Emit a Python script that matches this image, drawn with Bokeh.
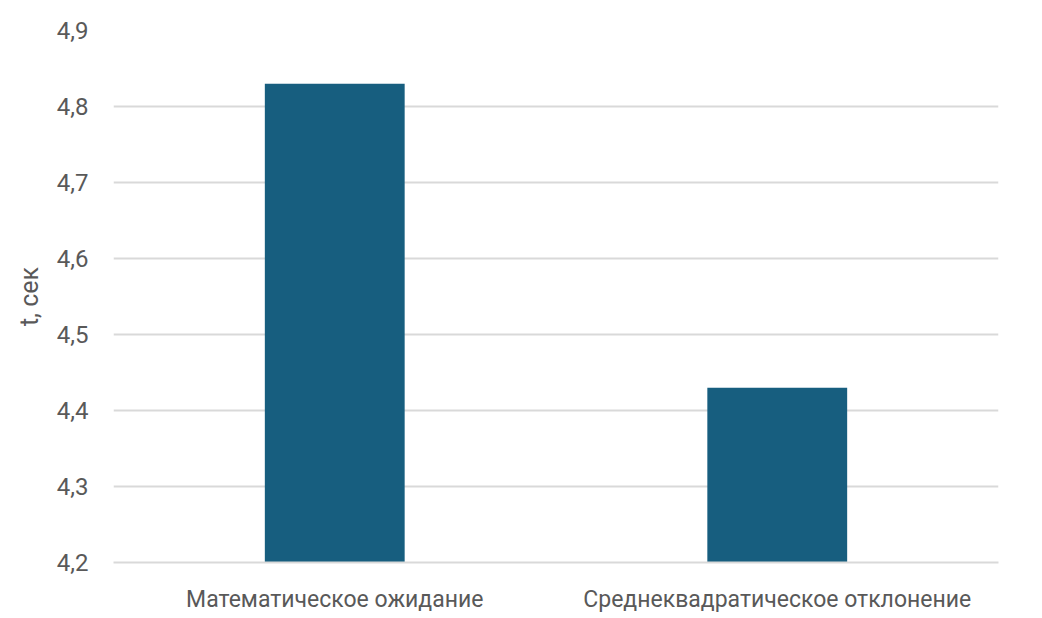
from bokeh.plotting import figure
from bokeh.models import Range1d, FixedTicker, ColumnDataSource
from bokeh.embed import file_html
from bokeh.resources import INLINE

categories = ["Математическое ожидание", "Среднеквадратическое отклонение"]
values = [4.83, 4.43]
y_ticks = [4.2, 4.3, 4.4, 4.5, 4.6, 4.7, 4.8, 4.9]
y_tick_labels = ["4,2", "4,3", "4,4", "4,5", "4,6", "4,7", "4,8", "4,9"]

source = ColumnDataSource(data=dict(cat=categories, val=values))

p = figure(x_range=categories, y_range=Range1d(4.2, 4.9),
           width=1034, height=615, output_backend="svg", toolbar_location=None,
           min_border_left=113, min_border_right=36, min_border_top=30, min_border_bottom=49)

p.vbar(x='cat', top='val', bottom=4.2, width=0.316, source=source,
       fill_color="#175e7f", line_color=None)

p.outline_line_color = None
p.xgrid.grid_line_color = None
p.ygrid.grid_line_color = "#d9d9d9"
p.ygrid.grid_line_width = 2

p.yaxis.ticker = FixedTicker(ticks=y_ticks)
p.yaxis.major_label_overrides = dict(zip(y_ticks, y_tick_labels))
p.yaxis.axis_line_color = None
p.yaxis.major_tick_line_color = None
p.yaxis.minor_tick_line_color = None
p.yaxis.major_tick_out = 0
p.yaxis.minor_tick_out = 0
p.yaxis.major_label_standoff = 25
p.yaxis.axis_label = "t, сек"
p.yaxis.axis_label_standoff = 10

p.xaxis.axis_line_color = "#d9d9d9"
p.xaxis.axis_line_width = 2
p.xaxis.major_tick_line_color = None
p.xaxis.major_tick_out = 0
p.xaxis.major_label_standoff = 23

p.axis.major_label_text_font = "Roboto"
p.axis.axis_label_text_font = "Roboto"
p.axis.major_label_text_color = "#595959"
p.axis.axis_label_text_color = "#595959"
p.axis.axis_label_text_font_style = "normal"
p.yaxis.major_label_text_font_size = "24px"
p.xaxis.major_label_text_font_size = "23px"
p.yaxis.axis_label_text_font_size = "25px"

open("out.html", "w").write(file_html(p, INLINE))
